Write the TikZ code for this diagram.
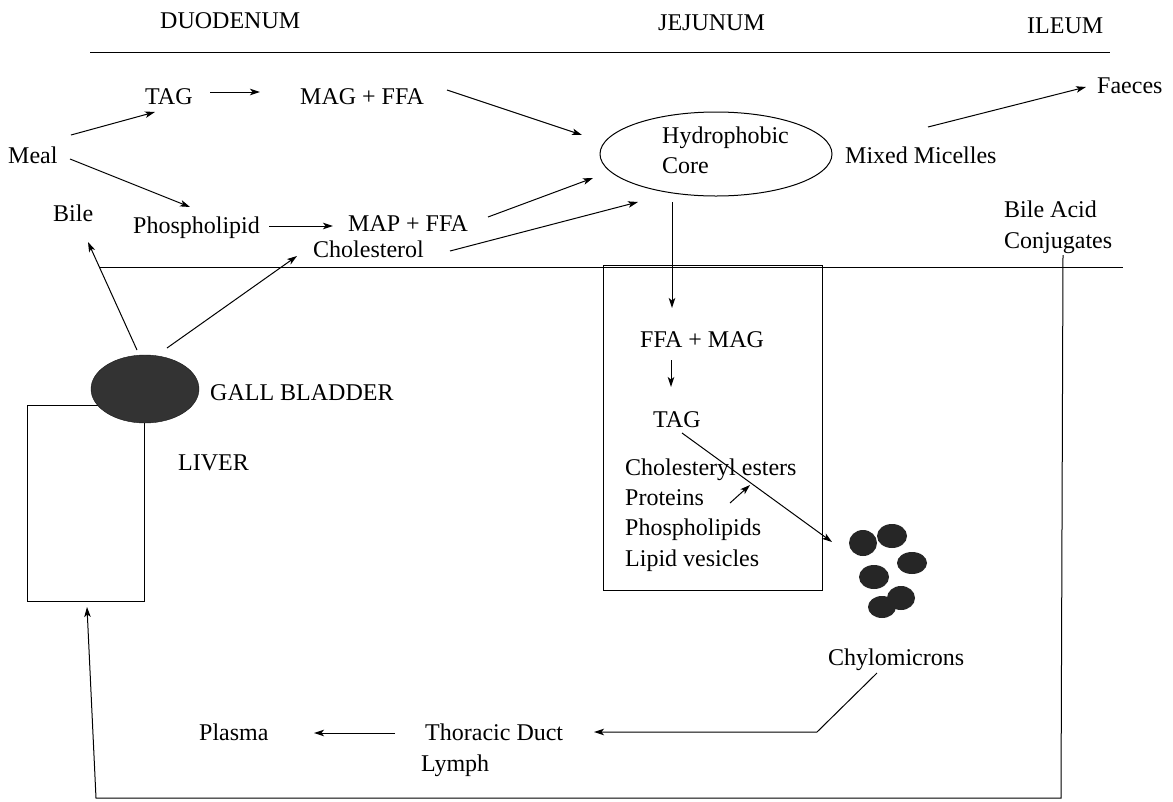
\documentclass[tikz,border=0pt]{standalone}
\usepackage{fontspec}
\setmainfont{Liberation Serif}
\usetikzlibrary{arrows.meta,shapes.geometric}
\begin{document}
\begin{tikzpicture}[x=1pt,y=-1pt,
  lbl/.style={anchor=base west,inner sep=0pt,font=\fontsize{24}{30}\selectfont},
  arr/.style={-{Stealth[length=10pt,width=6.5pt,inset=2.5pt]},line width=1pt},
  ln/.style={line width=1pt},
  blob/.style={ellipse,fill=black!85,draw=none,inner sep=0pt}]
\useasboundingbox[fill=white] (0,0) rectangle (1173,801);

% region headers and boundaries
\node[lbl] (duo) at (160,28) {DUODENUM};
\node[lbl] (jej) at (658,30) {JEJUNUM};
\node[lbl] (ile) at (1027,33) {ILEUM};
\coordinate (topL) at (90,52);
\coordinate (topR) at (1110,52);
\draw[ln] (topL) -- (topR);
\coordinate (midL) at (100,267);
\coordinate (midR) at (1123,267);
\draw[ln] (midL) -- (midR);

% lumen texts
\node[lbl] (meal) at (8,163) {Meal};
\node[lbl] (tag) at (145,104) {TAG};
\node[lbl] (magffa) at (300,104) {MAG + FFA};
\node[lbl] (bile) at (53,221) {Bile};
\node[lbl] (phos) at (133,233) {Phospholipid};
\node[lbl] (mapffa) at (348,231) {MAP + FFA};
\node[lbl] (chol) at (313,257) {Cholesterol};
\node[draw,ln,ellipse,minimum width=232pt,minimum height=84pt,inner sep=0pt] (core) at (716,154) {};
\node[lbl] (hyd1) at (662,143) {Hydrophobic};
\node[lbl] (hyd2) at (662,173) {Core};
\node[lbl] (mixed) at (845,163) {Mixed Micelles};
\node[lbl] (faeces) at (1097,93) {Faeces};
\node[lbl] (bac1) at (1004,217) {Bile Acid};
\node[lbl] (bac2) at (1004,248) {Conjugates};

% enterocyte box
\node[draw,ln,minimum width=219pt,minimum height=325pt,inner sep=0pt,anchor=north west] (cell) at (603,265) {};
\node[lbl] (ffamag) at (640,347) {FFA + MAG};
\node[lbl] (tag2) at (653,427) {TAG};
\node[lbl] (ce) at (625,475) {Cholesteryl esters};
\node[lbl] (prot) at (625,505) {Proteins};
\node[lbl] (phl) at (625,535) {Phospholipids};
\node[lbl] (lv) at (625,566) {Lipid vesicles};

% liver and gall bladder
\node[draw,ln,minimum width=117pt,minimum height=196pt,inner sep=0pt,anchor=north west] (liver) at (27,405) {};
\node[ellipse,fill=black!80,draw=black!90,minimum width=108pt,minimum height=68pt,inner sep=0pt] (gall) at (145,389) {};
\node[lbl] (gbl) at (210,400) {GALL BLADDER};
\node[lbl] (livl) at (178,470) {LIVER};

% chylomicrons
\node[blob,minimum width=28pt,minimum height=26pt] (c1) at (863,543) {};
\node[blob,minimum width=30pt,minimum height=24pt] (c2) at (892,536) {};
\node[blob,minimum width=30pt,minimum height=22pt] (c3) at (912,563) {};
\node[blob,minimum width=30pt,minimum height=24pt] (c4) at (874,577) {};
\node[blob,minimum width=28pt,minimum height=24pt] (c5) at (901,598) {};
\node[blob,minimum width=28pt,minimum height=22pt] (c6) at (882,607) {};
\node[lbl] (chylo) at (828,665) {Chylomicrons};

% lymph / plasma
\node[lbl] (thor) at (425,740) {Thoracic Duct};
\node[lbl] (lymph) at (421,771) {Lymph};
\node[lbl] (plasma) at (199,740) {Plasma};

% arrow end points
\coordinate (a1s) at (210,92);  \coordinate (a1e) at (260,92);
\coordinate (a2s) at (71,135);  \coordinate (a2e) at (155,112);
\coordinate (a3s) at (70,159);  \coordinate (a3e) at (190,207);
\coordinate (a4s) at (269,226); \coordinate (a4e) at (333,226);
\coordinate (a5s) at (447,90);  \coordinate (a5e) at (582,135);
\coordinate (a6s) at (488,217); \coordinate (a6e) at (593,178);
\coordinate (a7s) at (450,251); \coordinate (a7e) at (638,202);
\coordinate (a8s) at (137,350); \coordinate (a8e) at (88,242);
\coordinate (a9s) at (167,348); \coordinate (a9e) at (297,256);
\coordinate (a10s) at (928,127); \coordinate (a10e) at (1086,87);
\coordinate (a11s) at (672,202); \coordinate (a11e) at (672,308);
\coordinate (a12s) at (671,360); \coordinate (a12e) at (671,387);
\coordinate (a13s) at (682,433); \coordinate (a13e) at (832,542);
\coordinate (a14s) at (730,503); \coordinate (a14e) at (750,485);
\coordinate (a15s) at (877,673); \coordinate (a15m) at (817,732); \coordinate (a15e) at (594,732);
\coordinate (a16s) at (395,733); \coordinate (a16e) at (314,733);
\coordinate (b1) at (1063,255); \coordinate (b2) at (1061,798); \coordinate (b3) at (96,798); \coordinate (b4) at (87,607);

\draw[arr] (a1s) -- (a1e);
\draw[arr] (a2s) -- (a2e);
\draw[arr] (a3s) -- (a3e);
\draw[arr] (a4s) -- (a4e);
\draw[arr] (a5s) -- (a5e);
\draw[arr] (a6s) -- (a6e);
\draw[arr] (a7s) -- (a7e);
\draw[arr] (a8s) -- (a8e);
\draw[arr] (a9s) -- (a9e);
\draw[arr] (a10s) -- (a10e);
\draw[arr] (a11s) -- (a11e);
\draw[arr] (a12s) -- (a12e);
\draw[arr] (a13s) -- (a13e);
\draw[arr] (a14s) -- (a14e);
\draw[arr] (a15s) -- (a15m) -- (a15e);
\draw[arr] (a16s) -- (a16e);
\draw[arr] (b1) -- (b2) -- (b3) -- (b4);
\end{tikzpicture}
\end{document}
